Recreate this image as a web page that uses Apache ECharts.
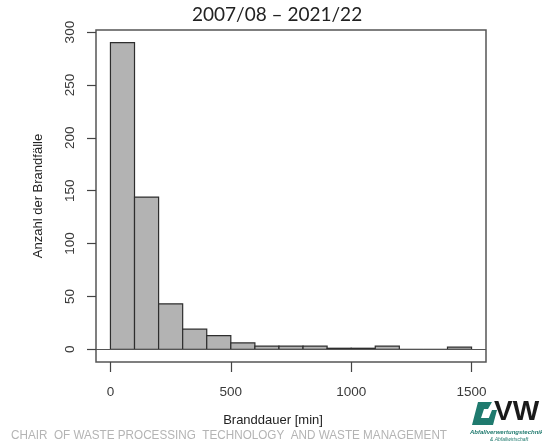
<!DOCTYPE html>
<html>
<head>
<meta charset="utf-8">
<style>
  html, body { margin: 0; padding: 0; background: #fff; }
  #chart { width: 542px; height: 447px; }
</style>
<script src="https://cdn.jsdelivr.net/npm/echarts@6/dist/echarts.min.js"></script>
</head>
<body>
<div id="chart"></div>
<script>
// Fire duration histogram: 100-minute bins
var binStarts = [0, 100, 200, 300, 400, 500, 600, 700, 800, 900, 1000, 1100, 1200, 1300, 1400];
var binWidth = 100;
var counts = [290, 144, 43, 19, 13, 6, 3, 3, 3, 1, 1, 3, 0, 0, 2];
var xTicks = [0, 500, 1000, 1500];
var yTicks = [0, 50, 100, 150, 200, 250, 300];

var titleText = '2007/08 \u2013 2021/22';
var xName = 'Branddauer [min]';
var yName = 'Anzahl der Brandf\u00e4lle';
var footerText = 'CHAIR  OF WASTE PROCESSING  TECHNOLOGY  AND WASTE MANAGEMENT';

var bins = binStarts.map(function (s, i) { return [s, s + binWidth, counts[i]]; });

var chart = echarts.init(document.getElementById('chart'), null, { renderer: 'canvas' });
var labelColor = '#3a3a3a';
var plainNumber = function (v) { return String(v); };

chart.setOption({
  animation: false,
  backgroundColor: '#ffffff',
  graphic: [
    {
      type: 'text', left: 192, top: 5,
      style: { text: titleText, fontFamily: 'Lato', fontSize: 19, fill: '#222' }
    },
    {
      type: 'text', left: 11, top: 429, scaleX: 0.9,
      style: { text: footerText, fontFamily: 'Liberation Sans', fontSize: 13, fill: '#b4b4b4' }
    },
    {
      type: 'polygon',
      shape: { points: [[478, 402], [492, 402], [488, 409], [484, 409], [481, 418], [490, 418], [487, 425], [472, 425]] },
      style: { fill: '#1f7a6e' }
    },
    {
      type: 'polygon',
      shape: { points: [[492, 410], [497, 410], [493, 425], [486, 425]] },
      style: { fill: '#1f7a6e' }
    },
    {
      type: 'text', left: 494, top: 398,
      style: { text: 'VW', fontFamily: 'Liberation Sans', fontSize: 28, fontWeight: 'bold', fill: '#1a1a1a' }
    },
    {
      type: 'text', left: 470, top: 429,
      style: { text: 'Abfallverwertungstechnik', fontFamily: 'Liberation Sans', fontSize: 6, fontStyle: 'italic', fontWeight: 'bold', fill: '#1f7a6e' }
    },
    {
      type: 'text', left: 490, top: 437,
      style: { text: '& Abfallwirtschaft', fontFamily: 'Liberation Sans', fontSize: 5, fontStyle: 'italic', fill: '#1f7a6e' }
    }
  ],
  grid: {
    left: 96, right: 56, top: 30, bottom: 85,
    show: true, borderColor: '#555', borderWidth: 1.5, backgroundColor: 'transparent'
  },
  xAxis: {
    type: 'value',
    min: -60, max: 1560,
    splitLine: { show: false },
    axisLine: { show: false, onZero: false },
    axisTick: { show: true, customValues: xTicks, length: 10, lineStyle: { color: '#444', width: 1.2 } },
    axisLabel: { customValues: xTicks, formatter: plainNumber, margin: 23, fontFamily: 'Liberation Sans', fontSize: 13.5, color: labelColor },
    name: xName,
    nameLocation: 'middle',
    nameGap: 52,
    nameTextStyle: { fontFamily: 'Liberation Sans', fontSize: 13, color: '#222', padding: [0, 36, 0, 0] }
  },
  yAxis: {
    type: 'value',
    min: -12, max: 302,
    splitLine: { show: false },
    axisLine: { show: false, onZero: false },
    axisTick: { show: true, customValues: yTicks, length: 9, lineStyle: { color: '#444', width: 1.2 } },
    axisLabel: { customValues: yTicks, formatter: plainNumber, rotate: 90, margin: 19, fontFamily: 'Liberation Sans', fontSize: 13.5, color: labelColor },
    name: yName,
    nameLocation: 'middle',
    nameGap: 51,
    nameRotate: 90,
    nameTextStyle: { fontFamily: 'Liberation Sans', fontSize: 13, color: '#222' }
  },
  series: [{
    type: 'custom',
    data: bins,
    encode: { x: [0, 1], y: 2 },
    renderItem: function (params, api) {
      var p0 = api.coord([api.value(0), api.value(2)]);
      var p1 = api.coord([api.value(1), 0]);
      return {
        type: 'rect',
        shape: { x: p0[0], y: p0[1], width: p1[0] - p0[0], height: p1[1] - p0[1] },
        style: { fill: '#b3b3b3', stroke: '#2e2e2e', lineWidth: 1.2 }
      };
    },
    markLine: {
      silent: true,
      symbol: 'none',
      label: { show: false },
      lineStyle: { color: '#555', width: 1.2, type: 'solid' },
      data: [{ yAxis: 0 }]
    },
    z: 2
  }]
});
</script>
</body>
</html>
